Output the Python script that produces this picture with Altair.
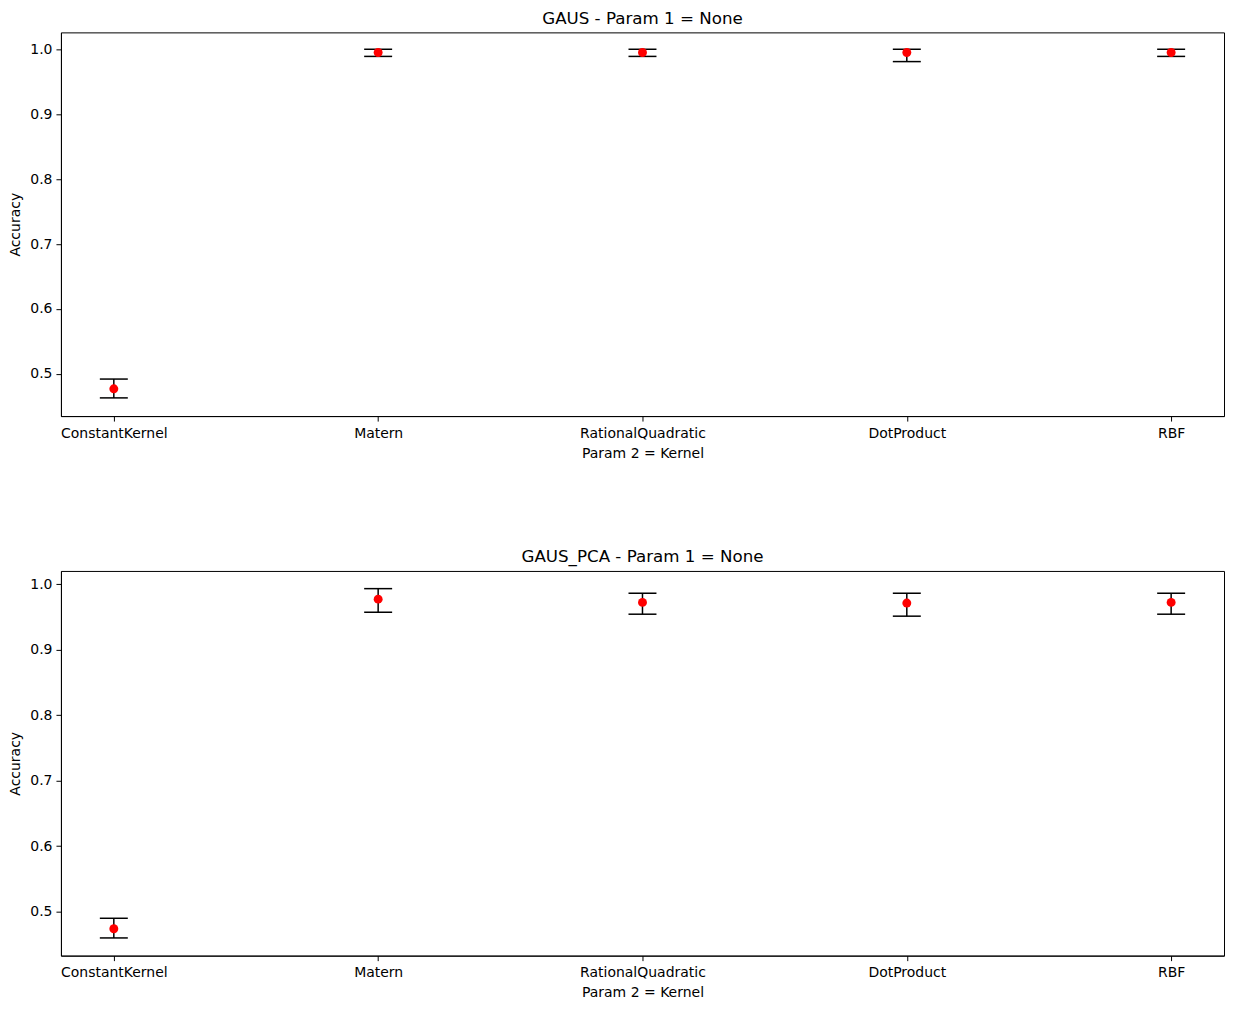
import altair as alt
import pandas as pd

kernels = ["ConstantKernel", "Matern", "RationalQuadratic", "DotProduct", "RBF"]

# Panel 1: GAUS
gaus_mean = [0.477, 0.995, 0.995, 0.995, 0.995]
gaus_lo = [0.463, 0.989, 0.989, 0.981, 0.989]
gaus_hi = [0.492, 1.000, 1.000, 1.000, 1.000]

# Panel 2: GAUS_PCA
pca_mean = [0.474, 0.977, 0.972, 0.971, 0.972]
pca_lo = [0.460, 0.957, 0.954, 0.951, 0.954]
pca_hi = [0.490, 0.993, 0.986, 0.986, 0.986]

FONT = "DejaVu Sans"


def panel(title, mean, lo, hi, ydom, h):
    df = pd.DataFrame({"kernel": kernels, "mean": mean, "lo": lo, "hi": hi})
    x = alt.X(
        "kernel:N",
        sort=kernels,
        scale=alt.Scale(type="point", padding=0.2),
        axis=alt.Axis(title="Param 2 = Kernel", labelAngle=0, labelPadding=5,
                      titlePadding=6, tickSize=5),
    )
    ysc = alt.Scale(domain=ydom, nice=False, zero=False)
    yax = alt.Axis(title="Accuracy", values=[0.5, 0.6, 0.7, 0.8, 0.9, 1.0],
                   format=".1f", tickSize=5, labelPadding=4, titlePadding=7)
    base = alt.Chart(df)
    rule = base.mark_rule(color="black", strokeWidth=1.5).encode(
        x=x, y=alt.Y("lo:Q", scale=ysc, axis=yax), y2="hi:Q"
    )
    cap_lo = base.mark_tick(color="black", size=28, thickness=1.5, opacity=1).encode(
        x=x, y=alt.Y("lo:Q", scale=ysc)
    )
    cap_hi = base.mark_tick(color="black", size=28, thickness=1.5, opacity=1).encode(
        x=x, y=alt.Y("hi:Q", scale=ysc)
    )
    pts = base.mark_circle(color="red", size=80, opacity=1).encode(
        x=x, y=alt.Y("mean:Q", scale=ysc)
    )
    return alt.layer(rule, cap_lo, cap_hi, pts).properties(
        width=1164, height=h,
        title=alt.TitleParams(title, fontSize=16.7, font=FONT, fontWeight="normal",
                              color="black", offset=5),
    )


top = panel("GAUS - Param 1 = None", gaus_mean, gaus_lo, gaus_hi, [0.435, 1.026], 384)
bottom = panel("GAUS_PCA - Param 1 = None", pca_mean, pca_lo, pca_hi, [0.433, 1.020], 385)

chart = alt.vconcat(top, bottom, spacing=155, bounds="flush").properties(
    padding={"left": 8, "top": 9, "right": 8, "bottom": 8},
    background="white",
).configure_view(stroke="black", strokeWidth=1).configure_axis(
    grid=False,
    domainColor="black",
    tickColor="black",
    labelColor="black",
    titleColor="black",
    labelFont=FONT,
    titleFont=FONT,
    labelFontSize=14,
    titleFontSize=14,
    titleFontWeight="normal",
    domainWidth=1,
    tickWidth=1,
)

chart.save("out.html", embed_options={"renderer": "svg", "actions": False})
